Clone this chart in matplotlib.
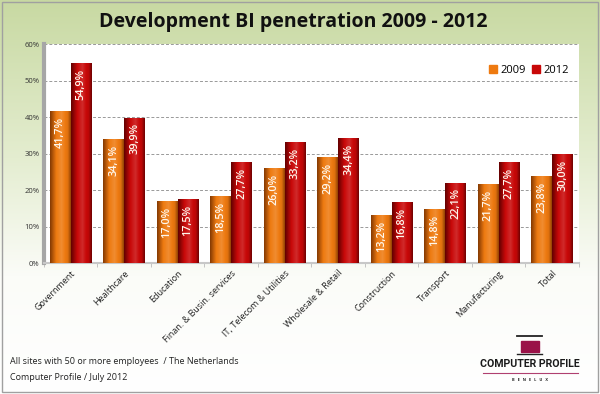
import numpy as np
import matplotlib.pyplot as plt
from matplotlib.patches import Rectangle
from matplotlib.colors import LinearSegmentedColormap

categories = ["Government", "Healthcare", "Education", "Finan. & Busin. services",
              "IT, Telecom & Utilities", "Wholesale & Retail", "Construction",
              "Transport", "Manufacturing", "Total"]
values_2009 = [41.7, 34.1, 17.0, 18.5, 26.0, 29.2, 13.2, 14.8, 21.7, 23.8]
values_2012 = [54.9, 39.9, 17.5, 27.7, 33.2, 34.4, 16.8, 22.1, 27.7, 30.0]
yticks = [0, 10, 20, 30, 40, 50, 60]

FONT = ["Open Sans", "DejaVu Sans"]
orange = "#ee7a10"
red = "#c80808"

fig = plt.figure(figsize=(6.0, 3.94), dpi=100)

# green-to-white vertical gradient behind everything
bg = fig.add_axes([0, 0, 1, 1], zorder=-10)
bg.axis("off")
bg_cmap = LinearSegmentedColormap.from_list(
    "bg", [(0, "#ffffff"), (0.3, "#fbfcf8"), (0.6, "#e4edd0"), (1, "#c8d9a2")])
grad = np.linspace(0, 1, 256).reshape(-1, 1)
bg.imshow(np.hstack([grad] * 2), cmap=bg_cmap, aspect="auto", extent=[0, 1, 0, 1], origin="lower")
bg.add_patch(Rectangle((0.003, 0.004), 0.994, 0.992, fill=False, ec="#a0a0a0", lw=1.0))
bg.set_xlim(0, 1)
bg.set_ylim(0, 1)

fig.text(0.488, 0.945, "Development BI penetration 2009 - 2012", ha="center", va="center",
         fontsize=14, fontweight="bold", family=FONT, color="#111111")

ax = fig.add_axes([0.073, 0.332, 0.892, 0.556])
ax.set_facecolor("white")
x = np.arange(len(categories))
w = 0.39


def shaded_bar(xc, h, color, dark):
    bar = ax.bar(xc, h, width=w, color=color, zorder=3)[0]
    cmap = LinearSegmentedColormap.from_list(
        "c", [(0, dark), (0.5, color), (1, "#ffffff")])
    shade = np.interp(np.linspace(0, 1, 64), [0, 0.3, 0.55, 0.85, 1],
                      [0.1, 0.5, 0.57, 0.45, 0.15])
    im = ax.imshow(shade.reshape(1, -1), cmap=cmap, vmin=0, vmax=1, aspect="auto",
                   extent=[xc - w / 2, xc + w / 2, 0, h], zorder=4)
    im.set_clip_path(bar)


for i in range(len(categories)):
    shaded_bar(x[i] - w / 2, values_2009[i], orange, "#6a2a00")
    shaded_bar(x[i] + w / 2, values_2012[i], red, "#4a0000")
    for xc, v in ((x[i] - w / 2, values_2009[i]), (x[i] + w / 2, values_2012[i])):
        ax.text(xc, v - 1.6, f"{v:.1f}%".replace(".", ","), rotation=90, ha="center",
                va="top", color="#fff8ee", fontsize=7.8, fontweight="semibold",
                family=FONT, zorder=6)

ax.set_xlim(-0.5, len(categories) - 0.5)
ax.set_ylim(0, 60)
ax.set_yticks(yticks)
ax.set_yticklabels([f"{t}%" for t in yticks], fontsize=5.5, color="#333333", family=FONT)
ax.yaxis.grid(True, ls=(0, (3, 2)), color="#999999", lw=0.7, zorder=0)
ax.set_xticks(x)
ax.set_xticklabels(categories, rotation=45, ha="right", rotation_mode="anchor",
                   fontsize=6.5, family=FONT, color="#222222")
ax.set_xticks(np.arange(-0.5, len(categories)), minor=True)
ax.tick_params(axis="x", which="major", length=0, pad=4)
ax.tick_params(axis="x", which="minor", length=3, color="#bbbbbb")
ax.tick_params(axis="y", length=0, pad=3)
for s in ("top", "right"):
    ax.spines[s].set_visible(False)
ax.spines["left"].set_color("#a6a6a6")
ax.spines["left"].set_linewidth(3)
ax.spines["bottom"].set_color("#c8c8c8")
ax.spines["bottom"].set_linewidth(1.5)

leg_handles = [Rectangle((0, 0), 1, 1, color=orange), Rectangle((0, 0), 1, 1, color=red)]
ax.legend(leg_handles, ["2009", "2012"], loc="upper right", bbox_to_anchor=(1.0, 0.95),
          ncol=2, frameon=False, handlelength=0.7, handleheight=0.7,
          handletextpad=0.3, columnspacing=0.6, prop={"family": FONT, "size": 8})

fig.text(0.017, 0.082, "All sites with 50 or more employees  / The Netherlands",
         fontsize=6.5, family=FONT, color="#222222", va="center")
fig.text(0.017, 0.043, "Computer Profile / July 2012",
         fontsize=6.5, family=FONT, color="#222222", va="center")

# logo
fig.text(0.883, 0.076, "COMPUTER PROFILE", ha="center", va="center", fontsize=7.6,
         fontweight="bold", family=["Roboto", "DejaVu Sans"], color="#1a1a1a")
fig.text(0.883, 0.036, "B   E   N   E   L   U   X", ha="center", va="center", fontsize=2.8,
         fontweight="bold", family=FONT, color="#222222")
bg.add_patch(Rectangle((0.869, 0.107), 0.030, 0.028, color="#9a1248"))
bg.plot([0.862, 0.903], [0.147, 0.147], color="#222222", lw=1.3)
bg.plot([0.862, 0.903], [0.102, 0.102], color="#222222", lw=1.0)
bg.plot([0.805, 0.963], [0.053, 0.053], color="#b04070", lw=0.8)

fig.savefig("out.png", dpi=100)
